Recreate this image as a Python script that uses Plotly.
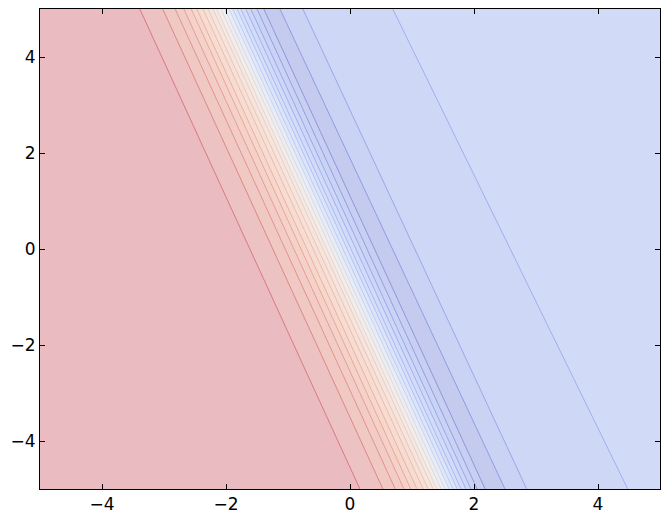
import plotly.graph_objects as go

# Contour boundaries: x where each boundary crosses y=5 (top) and y=-5 (bottom)
boundary_top_x = [-3.39, -3.02, -2.82, -2.68, -2.56, -2.47, -2.37, -2.29, -2.21, -2.15, -2.08, -2.02,
                  -1.95, -1.89, -1.82, -1.76, -1.68, -1.60, -1.50, -1.39, -1.13, -0.76, 0.69]
boundary_bottom_x = [0.16, 0.53, 0.73, 0.87, 0.98, 1.08, 1.18, 1.26, 1.34, 1.40, 1.47, 1.53,
                     1.60, 1.66, 1.73, 1.79, 1.87, 1.95, 2.05, 2.18, 2.50, 2.85, 4.48]
x_ticks = [-4, -2, 0, 2, 4]
y_ticks = [-4, -2, 0, 2, 4]
x_range = [-5, 5]
y_range = [-5, 5]

# band fill colours (left to right) - style
band_colors = [
    (234, 187, 192), (237, 194, 194), (240, 200, 196), (242, 205, 199), (244, 210, 202),
    (245, 215, 205), (246, 220, 210), (246, 225, 216), (245, 229, 222), (244, 233, 228),
    (242, 236, 234), (238, 238, 240), (232, 236, 246), (226, 232, 248), (220, 228, 249),
    (215, 223, 249), (211, 219, 248), (207, 215, 246), (203, 211, 244), (200, 207, 241),
    (197, 203, 238), (203, 211, 244), (206, 215, 246), (209, 219, 248),
]


def rgb(c):
    return "rgb(%d,%d,%d)" % c


def darker(c, f=2.1):
    return tuple(max(0, int(round(255 - (255 - v) * f))) for v in c)


fig = go.Figure()
lefts_top = [x_range[0]] + boundary_top_x
rights_top = boundary_top_x + [x_range[1]]
lefts_bot = [x_range[0]] + boundary_bottom_x
rights_bot = boundary_bottom_x + [x_range[1]]
for k, col in enumerate(band_colors):
    fig.add_trace(go.Scatter(
        x=[lefts_top[k], rights_top[k], rights_bot[k], lefts_bot[k], lefts_top[k]],
        y=[y_range[1], y_range[1], y_range[0], y_range[0], y_range[1]],
        mode="lines", fill="toself", fillcolor=rgb(col),
        line=dict(width=0, color=rgb(col)), hoverinfo="skip", showlegend=False))

for k in range(len(boundary_top_x)):
    a, b = band_colors[k], band_colors[k + 1]
    mid = tuple((u + v) / 2 for u, v in zip(a, b))
    fig.add_trace(go.Scatter(
        x=[boundary_top_x[k], boundary_bottom_x[k]], y=[y_range[1], y_range[0]],
        mode="lines", line=dict(width=1, color=rgb(darker(mid))),
        hoverinfo="skip", showlegend=False))

axis_common = dict(showgrid=False, zeroline=False, showline=True, linecolor="black",
                   linewidth=1, mirror="ticks", ticks="inside", ticklen=5,
                   tickcolor="black", tickwidth=1, automargin=False,
                   tickfont=dict(family="DejaVu Sans", size=17, color="black"))
fig.update_xaxes(range=x_range, tickvals=x_ticks,
                 ticktext=[("\u2212%d" % -v) if v < 0 else str(v) for v in x_ticks],
                 **axis_common)
fig.update_yaxes(range=y_range, tickvals=y_ticks,
                 ticktext=[("\u2212%d" % -v) if v < 0 else str(v) for v in y_ticks],
                 **axis_common)
# page body adds an 8px offset; margins compensate so the plot area sits at 40..660 x 9..489
fig.update_layout(width=670, height=523, margin=dict(l=32, r=18, t=1, b=42),
                  plot_bgcolor="white", paper_bgcolor="white")
fig.write_html("out.html")
